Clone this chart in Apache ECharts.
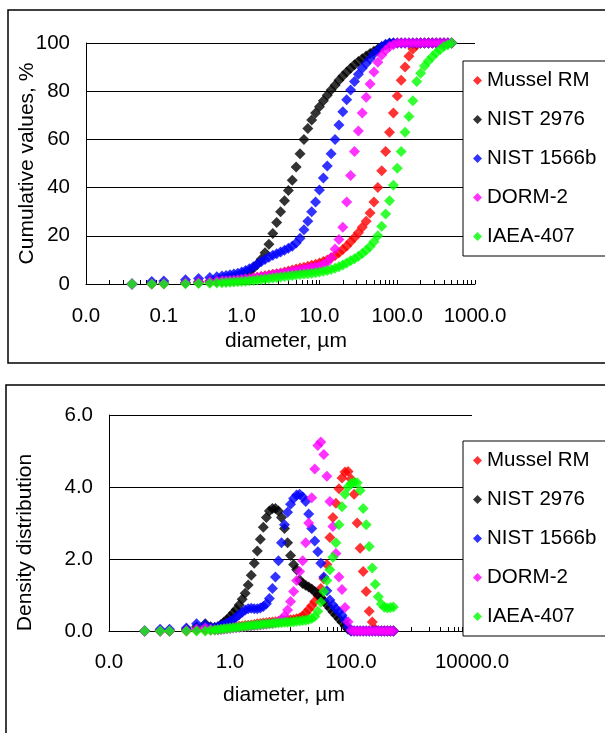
<!DOCTYPE html>
<html>
<head>
<meta charset="utf-8">
<script src="https://cdn.jsdelivr.net/npm/echarts@6/dist/echarts.min.js"></script>
<style>
  html, body { margin: 0; padding: 0; background: #fff; }
  #chart { width: 605px; height: 733px; }
</style>
</head>
<body>
<div id="chart"></div>
<script>
// particle diameter bins, µm
const diameter = [0.039, 0.070, 0.100, 0.190, 0.280, 0.390, 0.480, 0.560,
  0.632, 0.710, 0.796, 0.893,
  1.002, 1.125, 1.262, 1.416, 1.589, 1.783, 2.000, 2.244, 2.518, 2.825,
  3.170, 3.557, 3.991, 4.477, 5.024, 5.637, 6.325, 7.096, 7.962, 8.934,
  10.02, 11.25, 12.62, 14.16, 15.89, 17.83, 20.00, 22.44, 25.18, 28.25,
  31.70, 35.57, 39.91, 44.77, 50.24, 56.37, 63.25, 70.96, 79.62, 89.34,
  100.2, 112.5, 126.2, 141.6, 158.9, 178.3, 200.0, 224.4, 251.8, 282.5,
  317.0, 355.7, 399.1, 447.7, 502.4];

const names = ['Mussel RM', 'NIST 2976', 'NIST 1566b', 'DORM-2', 'IAEA-407'];
const colors = ['#ff0000', '#000000', '#0000ff', '#ff00ff', '#00ff00'];

// cumulative values, %
const cumMussel = [0, 0, 0.1, 0.3, 0.5, 0.7, 0.9, 1.0,
  1.1, 1.2, 1.4, 1.6,
  1.8, 2.0, 2.2, 2.5, 2.8, 3.1, 3.4, 3.7, 4.0, 4.3, 4.6, 5.0, 5.4, 5.8, 6.2, 6.6, 7.0, 7.4, 7.8, 8.2,
  8.7, 9.3, 10.0, 10.8, 11.8, 13.0, 14.3, 15.8, 17.5, 19.3, 21.3, 23.5, 26.0, 29.5, 34.0, 40.0, 47.0, 55.0, 63.0, 71.0,
  78.0, 84.5, 90.0, 94.5, 97.5, 99.2, 100, 100, 100, 100, 100, 100, 100, 100, 100];
const cumNist2976 = [0, 0.2, 0.3, 0.6, 0.9, 1.2, 1.5, 1.8,
  2.0, 2.3, 2.7, 3.1,
  3.7, 4.4, 5.3, 6.5, 8.2, 10.3, 13.0, 16.5, 21.0, 25.5, 30.0, 34.5, 38.8, 43.0, 48.5, 54.0, 60.0, 64.5, 68.0, 71.0,
  73.5, 76.0, 78.3, 80.5, 82.5, 84.5, 86.3, 88.0, 89.5, 91.0, 92.3, 93.5, 94.6, 95.6, 96.6, 97.5, 98.4, 99.2, 99.8, 100,
  100, 100, 100, 100, 100, 100, 100, 100, 100, 100, 100, 100, 100, 100, 100];
const cumNist1566b = [0, 1.0, 1.2, 1.8, 2.3, 2.7, 3.0, 3.3,
  3.5, 3.8, 4.1, 4.5,
  5.0, 5.6, 6.3, 7.2, 8.2, 9.2, 10.2, 11.1, 11.9, 12.6, 13.3, 14.0, 14.8, 15.7, 17.0, 19.0, 22.5, 26.0, 30.0, 34.0,
  39.0, 44.0, 49.0, 54.0, 60.0, 66.0, 71.5, 76.5, 80.5, 84.0, 87.0, 89.5, 91.5, 93.5, 95.5, 97.0, 98.5, 99.5, 100, 100,
  100, 100, 100, 100, 100, 100, 100, 100, 100, 100, 100, 100, 100, 100, 100];
const cumDorm2 = [0, 0.1, 0.2, 0.5, 0.8, 1.0, 1.2, 1.3,
  1.4, 1.5, 1.6, 1.8,
  2.0, 2.2, 2.4, 2.6, 2.8, 3.0, 3.2, 3.5, 3.8, 4.1, 4.4, 4.7, 5.0, 5.3, 5.6, 5.9, 6.2, 6.5, 6.8, 7.2,
  7.6, 8.2, 9.0, 11.0, 14.5, 18.5, 23.5, 34.0, 45.0, 55.0, 63.5, 71.0, 77.5, 83.0, 88.0, 92.0, 95.0, 97.0, 98.5, 99.3,
  100, 100, 100, 100, 100, 100, 100, 100, 100, 100, 100, 100, 100, 100, 100];
const cumIaea407 = [0, 0, 0, 0.1, 0.2, 0.3, 0.4, 0.5,
  0.6, 0.7, 0.8, 0.9,
  1.0, 1.1, 1.3, 1.5, 1.7, 1.9, 2.1, 2.3, 2.5, 2.7, 2.9, 3.1, 3.3, 3.5, 3.7, 3.9, 4.1, 4.3, 4.5, 4.7,
  5.0, 5.3, 5.6, 6.0, 6.5, 7.2, 7.9, 8.7, 9.6, 10.5, 11.5, 12.7, 14.0, 15.6, 17.5, 20.0, 24.0, 29.0, 34.5, 41.0,
  48.0, 55.0, 63.0, 69.5, 76.0, 84.0, 87.5, 90.5, 92.5, 94.3, 96.0, 97.3, 98.5, 99.3, 100];

// density distribution
const denMussel = [0, 0, 0, 0, 0.02, 0.03, 0.03, 0.04,
  0.05, 0.06, 0.07, 0.08,
  0.10, 0.11, 0.12, 0.13, 0.14, 0.15, 0.16, 0.17, 0.18, 0.20, 0.21, 0.22, 0.23, 0.24, 0.25, 0.26, 0.27, 0.28, 0.29, 0.30,
  0.31, 0.32, 0.34, 0.36, 0.42, 0.50, 0.60, 0.70, 0.82, 0.98, 1.18, 1.45, 1.85, 2.60, 3.15, 3.55, 3.95, 4.25, 4.42, 4.43,
  4.22, 3.80, 3.00, 2.30, 1.65, 1.10, 0.55, 0.25, 0.05, 0, 0, 0, 0, 0, 0];
const denNist2976 = [0, 0, 0, 0.05, 0.12, 0.20, 0.12, 0.10,
  0.12, 0.18, 0.25, 0.32,
  0.40, 0.50, 0.60, 0.72, 0.88, 1.05, 1.28, 1.55, 1.88, 2.22, 2.55, 2.88, 3.15, 3.33, 3.40, 3.40, 3.33, 3.15, 2.85, 2.45,
  2.10, 1.85, 1.70, 1.42, 1.32, 1.27, 1.22, 1.17, 1.10, 1.02, 0.93, 0.83, 0.73, 0.63, 0.53, 0.44, 0.34, 0.24, 0.14, 0.05,
  0, 0, 0, 0, 0, 0, 0, 0, 0, 0, 0, 0, 0, 0, 0];
const denNist1566b = [0, 0.05, 0.05, 0.08, 0.20, 0.18, 0.10, 0.10,
  0.12, 0.15, 0.18, 0.22,
  0.27, 0.32, 0.38, 0.45, 0.52, 0.58, 0.62, 0.63, 0.62, 0.62, 0.64, 0.68, 0.76, 0.90, 1.18, 1.50, 1.95, 2.45, 2.95, 3.30,
  3.52, 3.68, 3.78, 3.80, 3.72, 3.60, 3.25, 2.85, 2.50, 2.20, 1.88, 1.50, 1.12, 0.86, 0.72, 0.62, 0.54, 0.44, 0.30, 0.12,
  0, 0, 0, 0, 0, 0, 0, 0, 0, 0, 0, 0, 0, 0, 0];
const denDorm2 = [0, 0, 0, 0.02, 0.05, 0.08, 0.05, 0.03,
  0.03, 0.04, 0.05, 0.06,
  0.07, 0.08, 0.09, 0.10, 0.11, 0.12, 0.13, 0.14, 0.15, 0.16, 0.17, 0.18, 0.19, 0.20, 0.21, 0.23, 0.26, 0.32, 0.42, 0.58,
  0.82, 1.10, 1.40, 1.65, 1.95, 2.45, 3.00, 3.70, 4.50, 5.15, 5.25, 4.90, 4.30, 3.60, 2.90, 2.15, 1.50, 1.15, 0.65, 0.26,
  0.02, 0, 0, 0, 0, 0, 0, 0, 0, 0, 0, 0, 0, 0, 0];
const denIaea407 = [0, 0, 0, 0, 0, 0, 0.02, 0.03,
  0.04, 0.05, 0.06, 0.07,
  0.08, 0.09, 0.10, 0.11, 0.12, 0.13, 0.14, 0.15, 0.16, 0.17, 0.18, 0.19, 0.20, 0.20, 0.21, 0.22, 0.22, 0.23, 0.24, 0.24,
  0.25, 0.26, 0.27, 0.28, 0.29, 0.30, 0.32, 0.35, 0.40, 0.55, 0.80, 1.10, 1.40, 1.70, 2.05, 2.45, 2.95, 3.45, 3.80, 4.00,
  4.10, 4.13, 4.12, 3.90, 3.40, 2.95, 2.35, 1.75, 1.30, 0.95, 0.75, 0.66, 0.64, 0.65, 0.67];

const cumSeries = [cumMussel, cumNist2976, cumNist1566b, cumDorm2, cumIaea407];
const denSeries = [denMussel, denNist2976, denNist1566b, denDorm2, denIaea407];

// axis ticks and labels
const topXLabels = [0.01, 0.1, 1, 10, 100, 1000];
const topXTicks = [0.01, 0.02, 0.03, 0.04, 0.05, 0.06, 0.07, 0.08, 0.09,
  0.1, 0.2, 0.3, 0.4, 0.5, 0.6, 0.7, 0.8, 0.9,
  1, 2, 3, 4, 5, 6, 7, 8, 9,
  10, 20, 30, 40, 50, 60, 70, 80, 90,
  100, 200, 300, 400, 500, 600, 700, 800, 900, 1000];
const bottomXLabels = [0.01, 1, 100, 10000];
const bottomXTicks = [0.01,
  0.1, 0.2, 0.3, 0.4, 0.5, 0.6, 0.7, 0.8, 0.9, 1,
  10, 20, 30, 40, 50, 60, 70, 80, 90, 100,
  1000, 2000, 3000, 4000, 5000, 6000, 7000, 8000, 9000, 10000];

const FONT = "'Liberation Sans', Arial, sans-serif";
const txt = { color: '#000', fontFamily: FONT, fontSize: 20.5 };
const nameTxt = { color: '#000', fontFamily: FONT, fontSize: 21 };

const chart = echarts.init(document.getElementById('chart'), null, { renderer: 'canvas' });

const xAxisBase = (grid, max, labels, ticks, margin, gap, pad) => ({
  type: 'log',
  logBase: 10,
  gridIndex: grid,
  min: 0.01,
  max: max,
  name: 'diameter, µm',
  nameLocation: 'middle',
  nameGap: gap,
  nameMoveOverlap: false,
  nameTextStyle: Object.assign({ padding: pad }, nameTxt),
  axisLine: { lineStyle: { color: '#000', width: 1 } },
  axisTick: { inside: true, length: 4, lineStyle: { color: '#000' }, customValues: ticks },
  axisLabel: Object.assign({ margin: margin, customValues: labels, formatter: v => v.toFixed(1) }, txt),
  splitLine: { show: false },
  minorTick: { show: false }
});

const yAxisBase = (grid, name, max, interval, fmt, gap, pad) => ({
  type: 'value',
  gridIndex: grid,
  min: 0,
  max: max,
  interval: interval,
  name: name,
  nameLocation: 'middle',
  nameGap: gap,
  nameMoveOverlap: false,
  nameTextStyle: Object.assign({ padding: pad }, nameTxt),
  axisLine: { show: true, lineStyle: { color: '#000', width: 1 } },
  axisTick: { show: false },
  axisLabel: Object.assign({ margin: 16, formatter: fmt }, txt),
  splitLine: { lineStyle: { color: '#000', width: 1 } }
});

const legendBase = (top) => ({
  orient: 'vertical',
  left: 463,
  top: top,
  padding: [9, 40, 9, 10],
  itemGap: 18,
  itemWidth: 9,
  itemHeight: 9,
  icon: 'diamond',
  align: 'left',
  backgroundColor: '#fff',
  borderColor: '#000',
  borderWidth: 1,
  borderRadius: 0,
  selectedMode: false,
  textStyle: Object.assign({ lineHeight: 20 }, txt),
  data: names
});

const series = [];
cumSeries.forEach((vals, i) => {
  series.push({
    name: names[i], type: 'scatter', xAxisIndex: 0, yAxisIndex: 0,
    symbol: 'diamond', symbolSize: 11,
    itemStyle: { color: colors[i] },
    data: diameter.map((d, k) => [d, vals[k]])
  });
});
denSeries.forEach((vals, i) => {
  series.push({
    name: names[i], type: 'scatter', xAxisIndex: 1, yAxisIndex: 1,
    symbol: 'diamond', symbolSize: 11,
    itemStyle: { color: colors[i] },
    data: diameter.map((d, k) => [d, vals[k]])
  });
});

chart.setOption({
  animation: false,
  backgroundColor: '#fff',
  graphic: [
    { type: 'rect', z: 0, shape: { x: 8, y: 10, width: 640, height: 353 },
      style: { fill: null, stroke: '#000', lineWidth: 1.5 } },
    { type: 'rect', z: 0, shape: { x: 6, y: 385, width: 640, height: 400 },
      style: { fill: null, stroke: '#000', lineWidth: 1.5 } }
  ],
  grid: [
    { left: 86, top: 43, right: 130, bottom: 449 },
    { left: 109, top: 415, right: 133, bottom: 102 }
  ],
  legend: [legendBase(61), legendBase(441)],
  xAxis: [
    xAxisBase(0, 1000, topXLabels, topXTicks, 22, 47, [0, 0, 0, 11]),
    xAxisBase(1, 10000, bottomXLabels, bottomXTicks, 21, 54, [0, 13, 0, 0])
  ],
  yAxis: [
    yAxisBase(0, 'Cumulative values, %', 100, 20, v => String(v), 48, [0, 0, 0, 0]),
    yAxisBase(1, 'Density distribution', 6, 2, v => v.toFixed(1), 73, [0, 39, 0, 0])
  ],
  series: series
});

window.addEventListener('resize', () => chart.resize());
</script>
</body>
</html>
